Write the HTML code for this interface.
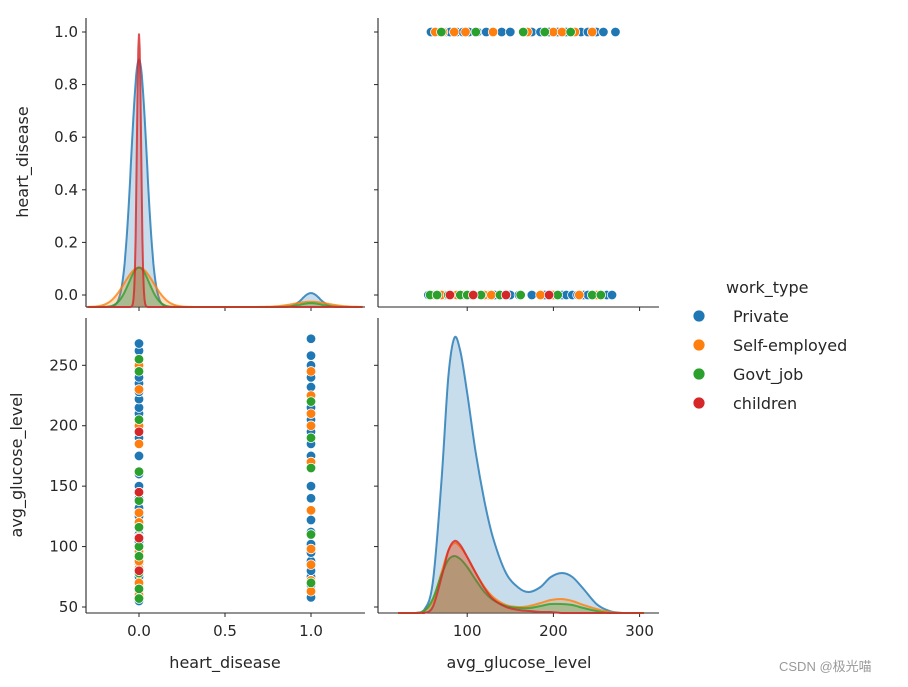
<!DOCTYPE html>
<html><head><meta charset="utf-8"><style>
body{margin:0;background:#fff;font-family:"Liberation Sans","DejaVu Sans",sans-serif}
svg text{font-family:"DejaVu Sans","Liberation Sans",sans-serif;fill:#262626}
</style></head><body>
<svg id="c" width="908" height="682"></svg>
<script>
const types=["Private","Self-employed","Govt_job","children"];
const colors=["#1f77b4","#ff7f0e","#2ca02c","#d62728"];
// glucose values per work type, heart_disease=0
const g0=[[55,62,68,72,75,79,83,86,90,95,99,104,110,118,125,132,140,150,160,175,190,200,210,215,222,228,235,240,248,255,262,268],
[60,70,82,88,96,108,120,128,145,185,200,230,250],
[57,65,78,92,100,116,138,162,205,245,255],
[80,107,145,195]];
// heart_disease=1
const g1=[[58,68,75,80,88,95,102,112,122,140,150,175,185,195,205,215,225,232,240,250,258,272],
[63,72,85,98,130,170,200,210,225,245],
[70,110,165,190,220],
[]];
// KDE of avg_glucose_level: grid and density heights
const gx=[20,40,50,60,70,78,85,92,100,110,120,130,145,160,172,185,197,210,222,235,250,265,280,305];
const dens=[
[0,0,3,30,130,235,275,262,220,160,112,75,40,25,21,26,36,40,36,24,9,2,0,0],
[0,0,2,12,40,62,70,66,56,40,26,16,8,6,7,10,13,14,12,8,4,1,0,0],
[0,0,2,14,38,53,57,54,46,33,21,13,7,5,5,7,9,9,8,5,2,0,0,0],
[0,0,0,6,35,62,72,68,56,40,25,14,6,3,2,1,1,0,0,0,0,0,0,0]];
// heart_disease KDE: gaussian components [center, amplitude, sigma]
const hd=[
[[0,0.94,0.045],[1,0.053,0.05]],
[[0,0.15,0.085],[1,0.02,0.1]],
[[0,0.15,0.06],[1,0.015,0.06]],
[[0,1.04,0.012]]];
const NS="http://www.w3.org/2000/svg",svg=document.getElementById('c');
function el(t,a,p){const e=document.createElementNS(NS,t);for(const k in a)e.setAttribute(k,a[k]);(p||svg).appendChild(e);return e;}
function txt(x,y,s,a,p){const e=el('text',Object.assign({x:x,y:y,'font-size':15},a||{}),p);e.textContent=s;return e;}
function smooth(P){let d='M'+P[0][0].toFixed(1)+','+P[0][1].toFixed(1);
 for(let i=0;i<P.length-1;i++){const p0=P[Math.max(i-1,0)],p1=P[i],p2=P[i+1],p3=P[Math.min(i+2,P.length-1)];
  const c1=[p1[0]+(p2[0]-p0[0])/6,p1[1]+(p2[1]-p0[1])/6],c2=[p2[0]-(p3[0]-p1[0])/6,p2[1]-(p3[1]-p1[1])/6];
  d+=` C${c1[0].toFixed(1)},${Math.min(c1[1],613).toFixed(1)} ${c2[0].toFixed(1)},${Math.min(c2[1],613).toFixed(1)} ${p2[0].toFixed(1)},${p2[1].toFixed(1)}`;}
 return d;}
const hx=v=>139+v*172, hy=v=>295-v*263;
const gX=v=>381+v*0.862, gY=v=>607-(v-50)*1.2085;
const L1=86,R1=365,L2=378,R2=659,T1=18,B1=307,T2=318,B2=613;
function axes(l,r,t,b,name){
 el('line',{x1:l,y1:t,x2:l,y2:b,stroke:'#262626','stroke-width':1.1});
 const a=el('line',{x1:l,y1:b,x2:r,y2:b,stroke:'#262626','stroke-width':1.1});
 
}
axes(L1,R1,T1,B1,'axes-top-left');axes(L2,R2,T1,B1,'axes-top-right');
axes(L1,R1,T2,B2,'axes-bottom-left');axes(L2,R2,T2,B2,'axes-bottom-right');
const hTicks=[0,0.2,0.4,0.6,0.8,1.0],gTicks=[50,100,150,200,250],xh=[0,0.5,1.0],xg=[100,200,300];
hTicks.forEach(v=>{[L1,L2].forEach(l=>el('line',{x1:l-4,y1:hy(v),x2:l,y2:hy(v),stroke:'#262626'}));
 const t=txt(L1-8,hy(v)+5,v.toFixed(1),{'text-anchor':'end'});});
gTicks.forEach(v=>{[L1,L2].forEach(l=>el('line',{x1:l-4,y1:gY(v),x2:l,y2:gY(v),stroke:'#262626'}));
 const t=txt(L1-8,gY(v)+5,String(v),{'text-anchor':'end'});});
xh.forEach(v=>{[B1,B2].forEach(b=>el('line',{x1:hx(v),y1:b,x2:hx(v),y2:b+4,stroke:'#262626'}));
 const t=txt(hx(v),B2+23,v.toFixed(1),{'text-anchor':'middle'});});
xg.forEach(v=>{[B1,B2].forEach(b=>el('line',{x1:gX(v),y1:b,x2:gX(v),y2:b+4,stroke:'#262626'}));
 const t=txt(gX(v),B2+23,String(v),{'text-anchor':'middle'});});
let t;
t=txt(225,668,'heart_disease',{'text-anchor':'middle','font-size':16});
t=txt(519,668,'avg_glucose_level',{'text-anchor':'middle','font-size':16});
t=txt(0,0,'heart_disease',{'text-anchor':'middle','font-size':16,transform:'translate(28,162) rotate(-90)'});
t=txt(0,0,'avg_glucose_level',{'text-anchor':'middle','font-size':16,transform:'translate(22,465) rotate(-90)'});
for(let k=0;k<4;k++){
 let pts=[];for(let v=-0.3;v<=1.3001;v+=0.004){let d=0;hd[k].forEach(c=>{d+=c[1]*Math.exp(-0.5*((v-c[0])/c[2])**2)});pts.push([hx(v),B1-d*263]);}
 const s=pts.map(p=>p[0].toFixed(1)+','+p[1].toFixed(1)).join(' ');
 const f=el('polygon',{points:s+` ${pts[pts.length-1][0]},${B1} ${pts[0][0]},${B1}`,fill:colors[k],'fill-opacity':0.25});
 
 const l=el('polyline',{points:s,fill:'none',stroke:colors[k],'stroke-width':2,'stroke-opacity':0.8});
 
}
for(let k=0;k<4;k++){
 const P=gx.map((v,i)=>[gX(v),B2-dens[k][i]]);
 const d=smooth(P);
 const f=el('path',{d:d+` L${P[P.length-1][0]},${B2} L${P[0][0]},${B2} Z`,fill:colors[k],'fill-opacity':0.25});
 
 const l=el('path',{d:d,fill:'none',stroke:colors[k],'stroke-width':2,'stroke-opacity':0.8});
 
}
function dot(x,y,c){const d=el('circle',{cx:x,cy:y,r:4.8,fill:c,stroke:'#fff','stroke-width':0.8});}
for(let k=0;k<4;k++){
 g0[k].forEach(v=>{dot(gX(v),hy(0),colors[k]);dot(hx(0),gY(v),colors[k]);});
 g1[k].forEach(v=>{dot(gX(v),hy(1),colors[k]);dot(hx(1),gY(v),colors[k]);});
}
const lg=el('g',{});
t=txt(726,293,'work_type',{'font-size':16},lg);
types.forEach((n,i)=>{const y=316+i*29;
 const c=el('circle',{cx:699,cy:y,r:6,fill:colors[i],stroke:'#fff','stroke-width':0.8},lg);
 const tt=txt(733,y+6,n,{'font-size':16},lg);});
t=txt(779,671,'CSDN @极光喵',{'font-size':13,style:'fill:#999;font-family:"Liberation Sans","Noto Sans CJK SC",sans-serif'});

</script>
</body></html>
